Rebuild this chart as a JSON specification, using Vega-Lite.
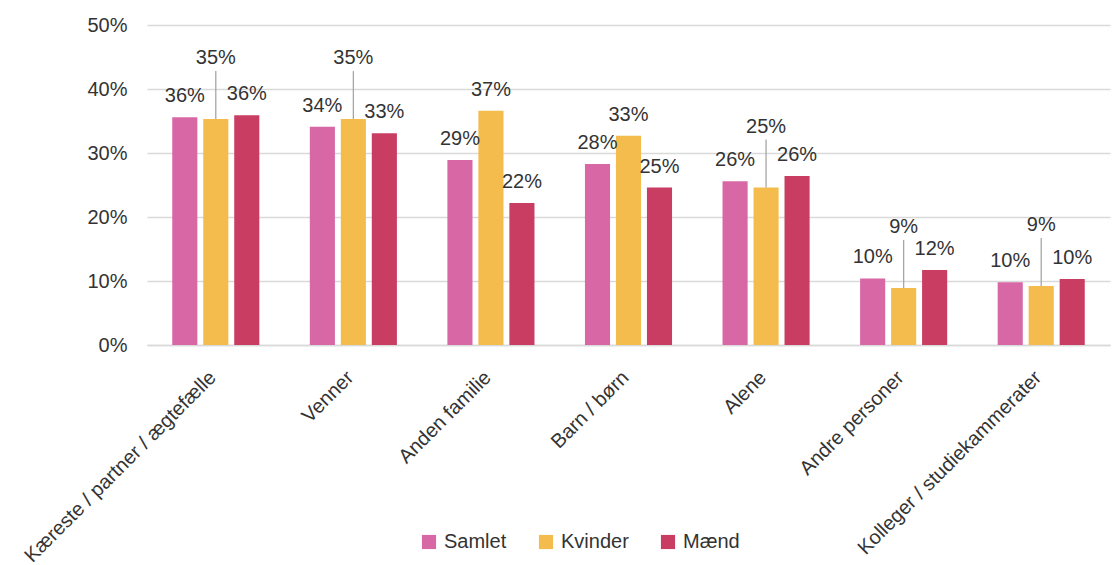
{
  "$schema": "https://vega.github.io/schema/vega-lite/v6.json",
  "autosize": {"type": "none"},
  "width": 963,
  "height": 320,
  "padding": {"left": 147, "top": 25, "right": 2, "bottom": 220},
  "background": "white",
  "config": {
    "font": "Liberation Sans",
    "view": {"stroke": null},
    "text": {"font": "Liberation Sans"}
  },
  "data": {
    "values": [
      {"kat": "Kæreste / partner / ægtefælle", "serie": "Samlet", "v": 0.356},
      {"kat": "Kæreste / partner / ægtefælle", "serie": "Kvinder", "v": 0.353},
      {"kat": "Kæreste / partner / ægtefælle", "serie": "Mænd", "v": 0.359},
      {"kat": "Venner", "serie": "Samlet", "v": 0.341},
      {"kat": "Venner", "serie": "Kvinder", "v": 0.353},
      {"kat": "Venner", "serie": "Mænd", "v": 0.331},
      {"kat": "Anden familie", "serie": "Samlet", "v": 0.289},
      {"kat": "Anden familie", "serie": "Kvinder", "v": 0.366},
      {"kat": "Anden familie", "serie": "Mænd", "v": 0.222},
      {"kat": "Barn / børn", "serie": "Samlet", "v": 0.283},
      {"kat": "Barn / børn", "serie": "Kvinder", "v": 0.327},
      {"kat": "Barn / børn", "serie": "Mænd", "v": 0.246},
      {"kat": "Alene", "serie": "Samlet", "v": 0.256},
      {"kat": "Alene", "serie": "Kvinder", "v": 0.246},
      {"kat": "Alene", "serie": "Mænd", "v": 0.264},
      {"kat": "Andre personer", "serie": "Samlet", "v": 0.104},
      {"kat": "Andre personer", "serie": "Kvinder", "v": 0.089},
      {"kat": "Andre personer", "serie": "Mænd", "v": 0.117},
      {"kat": "Kolleger / studiekammerater", "serie": "Samlet", "v": 0.098},
      {"kat": "Kolleger / studiekammerater", "serie": "Kvinder", "v": 0.092},
      {"kat": "Kolleger / studiekammerater", "serie": "Mænd", "v": 0.103}
    ]
  },
  "encoding": {
    "x": {
      "field": "kat",
      "type": "nominal",
      "sort": null,
      "scale": {"paddingInner": 0.367, "paddingOuter": 0.1835},
      "axis": {
        "title": null,
        "labelAngle": -45,
        "labelFontSize": 20,
        "labelColor": "#333333",
        "labelFont": "Liberation Sans",
        "labelLimit": 400,
        "ticks": false,
        "domainColor": "#d9d9d9",
        "domainWidth": 1.5,
        "labelPadding": 22,
        "labelOffset": -10
      }
    },
    "xOffset": {
      "field": "serie",
      "type": "nominal",
      "sort": ["Samlet", "Kvinder", "Mænd"],
      "scale": {"paddingInner": 0.19, "paddingOuter": 0}
    },
    "y": {
      "field": "v",
      "type": "quantitative",
      "scale": {"domain": [0, 0.5], "nice": false},
      "axis": {
        "title": null,
        "format": ".0%",
        "values": [0, 0.1, 0.2, 0.3, 0.4, 0.5],
        "labelOverlap": false,
        "grid": true,
        "labelFontSize": 20,
        "labelColor": "#333333",
        "labelFont": "Liberation Sans",
        "labelPadding": 20,
        "ticks": false,
        "domain": false,
        "gridColor": "#d9d9d9",
        "gridWidth": 1.5
      }
    }
  },
  "layer": [
    {
      "mark": {"type": "bar"},
      "encoding": {
        "color": {
          "field": "serie",
          "type": "nominal",
          "sort": ["Samlet", "Kvinder", "Mænd"],
          "scale": {"domain": ["Samlet", "Kvinder", "Mænd"], "range": ["#D867A6", "#F4BC4C", "#C93D62"]},
          "legend": {
            "title": null,
            "orient": "none",
            "direction": "horizontal",
            "legendX": 272,
            "legendY": 507,
            "symbolType": "square",
            "symbolSize": 200,
            "symbolStrokeWidth": 0,
            "labelFontSize": 20,
            "labelColor": "#333333",
            "labelFont": "Liberation Sans",
            "labelOffset": 5,
            "columnPadding": 29
          }
        }
      }
    },
    {
      "transform": [{"filter": "datum.serie != 'Kvinder' || datum.kat == 'Anden familie' || datum.kat == 'Barn / børn'"}],
      "mark": {"type": "text", "baseline": "alphabetic", "dy": -15, "fontSize": 20, "color": "#333333"},
      "encoding": {"text": {"field": "v", "type": "quantitative", "format": ".0%"}}
    },
    {
      "transform": [{"filter": "datum.serie == 'Kvinder' && datum.kat != 'Anden familie' && datum.kat != 'Barn / børn'"}],
      "mark": {"type": "rule", "color": "#a6a6a6", "strokeWidth": 1.3, "y2Offset": -48},
      "encoding": {"y2": {"field": "v"}}
    },
    {
      "transform": [{"filter": "datum.serie == 'Kvinder' && datum.kat != 'Anden familie' && datum.kat != 'Barn / børn'"}],
      "mark": {"type": "text", "baseline": "alphabetic", "dy": -55, "fontSize": 20, "color": "#333333"},
      "encoding": {"text": {"field": "v", "type": "quantitative", "format": ".0%"}}
    }
  ]
}
